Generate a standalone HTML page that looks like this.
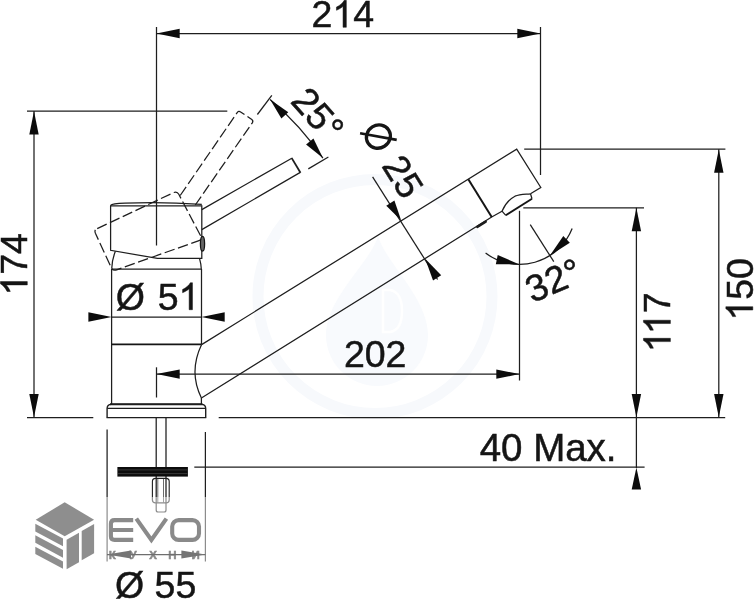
<!DOCTYPE html>
<html>
<head>
<meta charset="utf-8">
<style>
html,body{margin:0;padding:0;background:#fff;}
body{width:754px;height:600px;overflow:hidden;position:relative;}
svg{display:block;position:absolute;left:0;top:0;will-change:transform;}
text{font-family:"Liberation Sans",sans-serif;font-size:37.5px;fill:#151515;stroke:#151515;stroke-width:0.5px;}
.l{stroke:#1e1e1e;stroke-width:1.25;fill:none;}
.t{stroke:#151515;stroke-width:2;fill:none;}
.d{stroke:#1e1e1e;stroke-width:1.25;fill:none;stroke-dasharray:10.5 3.6;}
.a{fill:#0c0c0c;stroke:none;}
.g{stroke:#8c8c8c;stroke-width:1.2;fill:none;}
.ga{fill:#757575;stroke:none;}
.h{fill:none;stroke:none;}
.lg{fill:#8e8e8e;stroke:none;}
</style>
</head>
<body>
<svg width="754" height="600" viewBox="0 0 754 600">
<rect width="754" height="600" fill="#fff"/>

<circle cx="375" cy="296.5" r="117" fill="none" stroke="#f7f9fc" stroke-width="11"/>
<path d="M378,236 C385,262 428,298 428,335 A51,51 0 0 1 326,335 C326,298 371,262 378,236 Z" fill="#f8fafd"/>
<path d="M383,290 L383,332 L390,332 Q402,330 402,311 Q402,292 390,290 Z" fill="none" stroke="#ffffff" stroke-width="2.5"/>
<line class="l" x1="156.5" y1="27" x2="156.5" y2="245.5"/>
<line class="l" x1="540.5" y1="27" x2="540.5" y2="175"/>
<line class="l" x1="156.5" y1="33.5" x2="540.5" y2="33.5"/>
<polygon class="a" points="156.50,33.50 179.70,28.80 179.70,38.20"/>
<polygon class="a" points="540.50,33.50 517.30,38.20 517.30,28.80"/>
<g transform="translate(342.80,27.30) rotate(0)"><text x="-31.28 -10.43 10.43" y="0" style="font-size:37.5px;">2<tspan class="h">1</tspan>4</text><path d="M763 0H583V1147Q518 1085 412.5 1023T223 930V1104Q374 1175 487 1276T647 1472H763Z" transform="translate(-10.43,0) scale(0.01831,-0.01831)" fill="#151515" stroke="#151515" stroke-width="27.3"/></g>
<line class="l" x1="27" y1="111" x2="227.3" y2="111"/>
<line class="l" x1="34" y1="111" x2="34" y2="417.5"/>
<polygon class="a" points="34.00,111.30 38.70,134.50 29.30,134.50"/>
<polygon class="a" points="34.00,417.20 29.30,394.00 38.70,394.00"/>
<g transform="translate(27.30,264.30) rotate(-90)"><text x="-31.28 -10.43 10.43" y="0" style="font-size:37.5px;"><tspan class="h">1</tspan>74</text><path d="M763 0H583V1147Q518 1085 412.5 1023T223 930V1104Q374 1175 487 1276T647 1472H763Z" transform="translate(-31.28,0) scale(0.01831,-0.01831)" fill="#151515" stroke="#151515" stroke-width="27.3"/></g>
<line class="l" x1="27" y1="417.6" x2="93.3" y2="417.6"/>
<line class="l" x1="218.7" y1="417.6" x2="725.2" y2="417.6"/>
<line class="l" x1="524.2" y1="149.2" x2="725.4" y2="149.2"/>
<line class="l" x1="718.8" y1="149.2" x2="718.8" y2="417.5"/>
<polygon class="a" points="718.80,149.50 723.50,172.70 714.10,172.70"/>
<polygon class="a" points="718.80,417.20 714.10,394.00 723.50,394.00"/>
<g transform="translate(752.80,289.40) rotate(-90)"><text x="-31.28 -10.43 10.43" y="0" style="font-size:37.5px;"><tspan class="h">1</tspan>50</text><path d="M763 0H583V1147Q518 1085 412.5 1023T223 930V1104Q374 1175 487 1276T647 1472H763Z" transform="translate(-31.28,0) scale(0.01831,-0.01831)" fill="#151515" stroke="#151515" stroke-width="27.3"/></g>
<line class="l" x1="523.3" y1="207.8" x2="644" y2="207.8"/>
<line class="l" x1="636.4" y1="207.8" x2="636.4" y2="468"/>
<polygon class="a" points="636.40,208.10 641.10,231.30 631.70,231.30"/>
<polygon class="a" points="636.40,417.20 631.70,394.00 641.10,394.00"/>
<g transform="translate(670.40,322.40) rotate(-90)"><text x="-29.89 -11.82 9.04" y="0" style="font-size:37.5px;"><tspan class="h">1</tspan><tspan class="h">1</tspan>7</text><path d="M763 0H583V1147Q518 1085 412.5 1023T223 930V1104Q374 1175 487 1276T647 1472H763Z" transform="translate(-29.89,0) scale(0.01831,-0.01831)" fill="#151515" stroke="#151515" stroke-width="27.3"/><path d="M763 0H583V1147Q518 1085 412.5 1023T223 930V1104Q374 1175 487 1276T647 1472H763Z" transform="translate(-11.82,0) scale(0.01831,-0.01831)" fill="#151515" stroke="#151515" stroke-width="27.3"/></g>
<line class="l" x1="194.3" y1="467.2" x2="644.6" y2="467.2"/>
<polygon class="a" points="636.40,467.50 641.10,489.50 631.70,489.50"/>
<g transform="translate(548.10,461.00) rotate(0)"><text x="-68.47 -47.06 -25.65 -14.95 17.12 38.53 57.78" y="0" style="font-size:38.5px;">40 Max.</text></g>
<line class="l" x1="156.5" y1="367.3" x2="156.5" y2="397.5"/>
<line class="l" x1="519.5" y1="210.8" x2="519.5" y2="380.5"/>
<line class="l" x1="156.5" y1="374.1" x2="519.5" y2="374.1"/>
<polygon class="a" points="156.50,374.10 179.70,369.40 179.70,378.80"/>
<polygon class="a" points="519.50,374.10 496.30,378.80 496.30,369.40"/>
<g transform="translate(375.20,367.30) rotate(0)"><text x="-31.28 -10.43 10.43" y="0" style="font-size:37.5px;">202</text></g>
<path class="l" d="M111.6,269 L111.6,404 M201.4,404 L201.4,398 M201.5,269 L201.5,344.5"/>
<line class="l" x1="112" y1="269.2" x2="201" y2="269.2"/>
<line class="t" x1="111.6" y1="344.4" x2="201.5" y2="344.4" style="stroke-width:1.7"/>
<path class="l" d="M201.6,344.6 Q188.5,372 201.4,398"/>
<path class="l" d="M107.1,417.6 L107.1,408.6 Q107.1,404.4 111.3,404.4 L201.5,404.4 Q205.7,404.4 205.7,408.6 L205.7,417.6" style="stroke-width:1.4"/>
<line class="l" x1="110" y1="404.3" x2="202.5" y2="404.3" style="stroke-width:1.9"/>
<line class="l" x1="107.3" y1="408.4" x2="205.5" y2="408.4"/>
<line class="l" x1="106.5" y1="417.6" x2="206.3" y2="417.6"/>
<path class="l" d="M201.6,344.6 L516.7,149.2 L540.8,187.5 L530.5,193.8"/>
<path class="l" d="M201.4,398 L491.7,217 L502,211.2"/>
<path class="l" d="M502,211.2 L505.8,215.3 M532,198.7 L530.5,193.8"/>
<path class="t" d="M505.8,215.3 L532,198.7" style="stroke-width:1.9"/>
<path class="l" d="M502,211.2 C504.5,205.5 508.5,199.5 515,196.2 C520,194.2 526,194.4 530.5,193.8"/>
<line class="t" x1="468.3" y1="179.2" x2="491.7" y2="217"/>
<path d="M477.3,226.9 L485.7,221.6" stroke="#1c1c1c" stroke-width="2.5" stroke-linecap="round"/>
<path class="l" d="M110.6,205.3 L110.6,250.3 L157.4,258.4 L201.8,258.4 L201.8,205.3"/>
<path class="l" d="M110.6,205.8 L201.8,205.8"/>
<path class="l" d="M110.6,205.3 Q112,203.6 125,203.2 Q160,201.6 201.8,204.3"/>
<path class="l" d="M115.4,251.3 Q112,259.5 111.7,268.8"/>
<path class="l" d="M199.5,258.4 Q201,263.5 201.3,269"/>
<ellipse cx="202.5" cy="243.7" rx="2.1" ry="7.4" fill="#666" stroke="#151515" stroke-width="1.3"/>
<path class="l" d="M201.8,209.6 L291.8,158.2 M300.3,172.4 L201.8,229.6"/>
<path class="l" d="M291.6,157.9 L300.5,172.7" style="stroke-width:1.8"/>
<path class="d" d="M97.2,228.6 L173.6,192.6 Q177,191 178.8,194.3 L200.8,236.2 Q202.4,239.4 199,240.6 L116.6,269.8 Q112.8,271.2 111.2,267.5 L95.4,233.2 Q94,229.9 97.2,228.6 Z"/>
<path class="d" d="M180.2,195.5 L237.2,112.6 Q238.6,110.5 240.6,111.9 L251.8,119.5 Q253.6,120.8 252.3,122.8 L195.3,205"/>
<line class="l" x1="257.4" y1="114.5" x2="271.8" y2="95.4"/>
<line class="l" x1="308.3" y1="168.9" x2="328.4" y2="157"/>
<path class="l" d="M270.1,99.4 Q300.5,125.2 322.9,158.1"/>
<polygon class="a" points="270.10,99.40 288.28,112.14 281.38,118.52"/>
<polygon class="a" points="322.90,158.10 306.07,144.38 313.44,138.55"/>
<g transform="translate(289.40,101.70) rotate(48.5)"><text x="0.00 20.86 41.71" y="0" style="font-size:37.5px;">25°</text></g>
<line class="l" x1="372.6" y1="176.9" x2="437.6" y2="279.5"/>
<polygon class="a" points="401.20,220.50 386.27,205.66 394.41,200.57"/>
<polygon class="a" points="425.20,258.80 441.19,275.34 433.05,280.42"/>
<g transform="translate(378.4,136.6) rotate(58)"><ellipse cx="0" cy="0" rx="11.4" ry="12.2" fill="none" stroke="#151515" stroke-width="3.3"/><line x1="-12.5" y1="13.8" x2="12.5" y2="-13.8" stroke="#151515" stroke-width="2.6"/></g>
<g transform="translate(380.90,165.80) rotate(58)"><text x="0.00 20.86" y="0" style="font-size:37.5px;">25</text></g>
<line class="l" x1="530.25" y1="224.67" x2="553.78" y2="261.61"/>
<path class="l" d="M485.60,253.12 A56.6,56.6 0 0 0 572.16,228.54"/>
<polygon class="a" points="519.50,264.40 495.83,264.32 497.73,255.12"/>
<polygon class="a" points="549.91,255.54 563.29,236.01 569.83,242.75"/>
<g transform="translate(532.30,303.20) rotate(-23)"><text x="0.00 20.86 41.71" y="0" style="font-size:37.5px;">32°</text></g>
<line class="l" x1="111.6" y1="317" x2="201.5" y2="317"/>
<polygon class="a" points="111.60,317.00 88.40,321.70 88.40,312.30"/>
<polygon class="a" points="201.50,317.00 224.70,312.30 224.70,321.70"/>
<g transform="translate(157.60,309.70) rotate(0)"><text x="-41.75 -12.58 0.04 20.89" y="0" style="font-size:37.5px;">Ø 5<tspan class="h">1</tspan></text><path d="M763 0H583V1147Q518 1085 412.5 1023T223 930V1104Q374 1175 487 1276T647 1472H763Z" transform="translate(20.89,0) scale(0.01831,-0.01831)" fill="#151515" stroke="#151515" stroke-width="27.3"/></g>
<path class="l" d="M156.2,418 L156.2,497 M166,418 L166,497"/>
<path class="g" d="M156.2,497 L156.2,510 Q156.2,512 158,512 L164.2,512 Q166,512 166,510 L166,497"/>
<rect x="117.4" y="467" width="70.5" height="9.6" fill="#0c0c0c"/>
<path d="M118,469.9 L187.4,469.9 M118,473.6 L187.4,473.6" stroke="#4a4a4a" stroke-width="0.7"/>
<path class="l" d="M152.4,497 L152.4,481.5 Q152.4,478.4 155.5,478.4 L166.1,478.4 Q169.2,478.4 169.2,481.5 L169.2,497" style="stroke-width:1.1"/>
<path class="g" d="M152.4,497 L152.4,500 Q152.4,502.8 155.5,502.8 L166.1,502.8 Q169.2,502.8 169.2,500 L169.2,497"/>
<path class="l" d="M157.8,479 L157.8,497 M163.5,479 L163.5,497" style="stroke-width:0.8;stroke:#444"/>
<path class="g" d="M157.8,497 L157.8,502.5 M163.5,497 L163.5,502.5" style="stroke-width:0.8"/>
<line class="l" x1="107.1" y1="429.5" x2="107.1" y2="497"/>
<line class="l" x1="205.4" y1="432" x2="205.4" y2="497"/>
<line class="g" x1="107.1" y1="497" x2="107.1" y2="561.5"/>
<line class="g" x1="205.4" y1="497" x2="205.4" y2="561.5"/>
<g transform="translate(155.60,598.00) rotate(0)"><text x="-40.65 -11.48 -1.06 19.79" y="0" style="font-size:37.5px;">Ø 55</text></g>
<polygon class="lg" points="64.7,502.3 35.7,519.7 64.7,536.3 94.1,519.7"/>
<polygon class="lg" points="35.3,523.8 63,538.4 63,546.3 35.3,531.4"/>
<polygon class="lg" points="35.3,535.2 63,549.9 63,557.7 35.3,542.8"/>
<polygon class="lg" points="35.3,546.8 63,561.4 63,568.8 35.3,553.9"/>
<polygon class="lg" points="66.6,539.7 79,532.7 79,562.3 66.6,569.3"/>
<polygon class="lg" points="81.7,531 94.1,524 94.1,553.3 81.7,560.3"/>
<g fill="none" stroke="#8a8a8a" stroke-width="4.1" stroke-linejoin="round">
<path d="M133.2,520.1 L114.5,520.1 Q110.9,520.1 110.9,523.7 L110.9,536.3 Q110.9,539.9 114.5,539.9 L133.2,539.9 M111,530 L133.2,530"/>
<path d="M136.3,518.6 L151.4,540 L166.4,518.6" stroke-linejoin="miter"/>
<rect x="172.2" y="520.1" width="26.8" height="19.8" rx="6.5" ry="6.5"/>
</g>
<g style="font-size:11.5px;font-weight:bold;" fill="#8a8a8a">
<text x="112.3" y="558.7" text-anchor="middle" style="font-size:11.5px;fill:#8a8a8a;stroke:#8a8a8a;stroke-width:0.5px">К</text>
<text x="133.2" y="558.7" text-anchor="middle" style="font-size:11.5px;fill:#8a8a8a;stroke:#8a8a8a;stroke-width:0.5px">У</text>
<text x="153.0" y="558.7" text-anchor="middle" style="font-size:11.5px;fill:#8a8a8a;stroke:#8a8a8a;stroke-width:0.5px">Х</text>
<text x="172.5" y="558.7" text-anchor="middle" style="font-size:11.5px;fill:#8a8a8a;stroke:#8a8a8a;stroke-width:0.5px">Н</text>
<text x="195.7" y="558.7" text-anchor="middle" style="font-size:11.5px;fill:#8a8a8a;stroke:#8a8a8a;stroke-width:0.5px">И</text>
</g>
<line x1="107" y1="554.6" x2="205.4" y2="554.6" stroke="#6e6e6e" stroke-width="1.2"/>
<polygon class="ga" points="107.00,554.60 131.00,550.60 131.00,558.60"/>
<polygon class="ga" points="205.40,554.60 181.40,558.60 181.40,550.60"/>
</svg>
</body>
</html>
